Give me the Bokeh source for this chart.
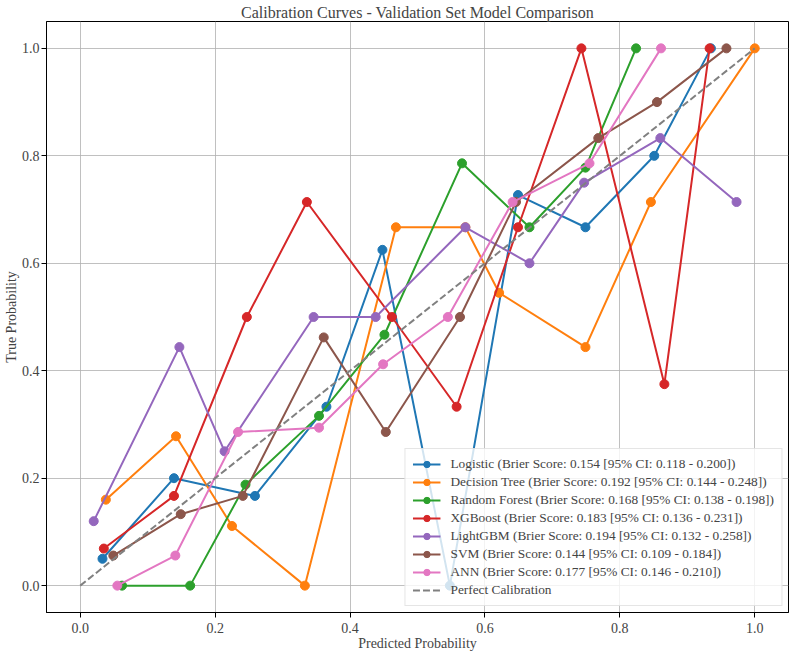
from bokeh.plotting import figure
from bokeh.models import Range1d, FixedTicker, Legend, CustomJSTickFormatter
from bokeh.embed import file_html
from bokeh.resources import INLINE

# ---- data ----
model_names = ["Logistic", "Decision Tree", "Random Forest", "XGBoost", "LightGBM", "SVM", "ANN"]
brier = [0.154, 0.192, 0.168, 0.183, 0.194, 0.144, 0.177]
ci_low = [0.118, 0.144, 0.138, 0.136, 0.132, 0.109, 0.146]
ci_high = [0.200, 0.248, 0.198, 0.231, 0.258, 0.184, 0.210]

logistic_x = [0.033, 0.139, 0.259, 0.365, 0.448, 0.548, 0.649, 0.749, 0.851, 0.935]
logistic_y = [0.050, 0.200, 0.167, 0.333, 0.625, 0.000, 0.727, 0.667, 0.800, 1.000]

tree_x = [0.038, 0.142, 0.225, 0.333, 0.468, 0.571, 0.621, 0.749, 0.846, 1.000]
tree_y = [0.160, 0.278, 0.111, 0.000, 0.667, 0.667, 0.545, 0.444, 0.714, 1.000]

forest_x = [0.062, 0.163, 0.245, 0.354, 0.451, 0.566, 0.666, 0.749, 0.824]
forest_y = [0.000, 0.000, 0.188, 0.316, 0.467, 0.786, 0.667, 0.778, 1.000]

xgb_x = [0.035, 0.139, 0.247, 0.336, 0.462, 0.558, 0.649, 0.743, 0.866, 0.933]
xgb_y = [0.069, 0.167, 0.500, 0.714, 0.500, 0.333, 0.667, 1.000, 0.375, 1.000]

lgbm_x = [0.020, 0.147, 0.214, 0.346, 0.438, 0.571, 0.666, 0.747, 0.860, 0.973]
lgbm_y = [0.120, 0.444, 0.250, 0.500, 0.500, 0.667, 0.600, 0.750, 0.833, 0.714]

svm_x = [0.049, 0.149, 0.241, 0.361, 0.453, 0.563, 0.646, 0.768, 0.855, 0.958]
svm_y = [0.056, 0.133, 0.167, 0.462, 0.286, 0.500, 0.714, 0.833, 0.900, 1.000]

ann_x = [0.055, 0.141, 0.234, 0.354, 0.449, 0.545, 0.641, 0.755, 0.861]
ann_y = [0.000, 0.056, 0.286, 0.294, 0.412, 0.500, 0.714, 0.786, 1.000]

perfect = [0.0, 1.0]
ticks = [0.0, 0.2, 0.4, 0.6, 0.8, 1.0]

series_x = [logistic_x, tree_x, forest_x, xgb_x, lgbm_x, svm_x, ann_x]
series_y = [logistic_y, tree_y, forest_y, xgb_y, lgbm_y, svm_y, ann_y]
colors = ["#1f77b4", "#ff7f0e", "#2ca02c", "#d62728", "#9467bd", "#8c564b", "#e377c2"]

FONT = "Liberation Serif"

p = figure(width=792, height=654, output_backend="svg", toolbar_location=None,
           x_range=Range1d(-0.05, 1.05), y_range=Range1d(-0.05, 1.05),
           title="Calibration Curves - Validation Set Model Comparison",
           x_axis_label="Predicted Probability", y_axis_label="True Probability",
           min_border_left=44, min_border_right=4, min_border_top=21, min_border_bottom=42)

p.title.align = "center"
p.title.text_font = FONT
p.title.text_font_size = "16px"
p.title.text_font_style = "normal"
p.title.offset = 0
p.title.standoff = 2

p.outline_line_color = "black"
p.outline_line_width = 1
p.outline_line_alpha = 1

p.xaxis.formatter = CustomJSTickFormatter(code="return tick.toFixed(1);")
p.yaxis.formatter = CustomJSTickFormatter(code="return tick.toFixed(1);")

for ax in p.xaxis + p.yaxis:
    ax.ticker = FixedTicker(ticks=ticks)
    ax.major_label_text_font = FONT
    ax.major_label_text_font_size = "14px"
    ax.axis_label_text_font = FONT
    ax.axis_label_text_font_size = "14px"
    ax.axis_label_text_font_style = "normal"
    ax.major_tick_in = 0
    ax.major_tick_out = 5
    ax.minor_tick_line_color = None
    ax.axis_line_color = "black"
    ax.major_tick_line_color = "black"
    ax.axis_label_standoff = 0
p.xaxis.major_label_standoff = 5
p.yaxis.major_label_standoff = 2

p.grid.grid_line_color = "#b0b0b0"
p.grid.grid_line_alpha = 0.8
p.grid.grid_line_width = 1

items = []
for name, b, lo, hi, xs, ys, c in zip(model_names, brier, ci_low, ci_high, series_x, series_y, colors):
    label = f"{name} (Brier Score: {b:.3f} [95% CI: {lo:.3f} - {hi:.3f}])"
    r1 = p.line(xs, ys, line_color=c, line_width=2)
    r2 = p.scatter(xs, ys, size=9, fill_color=c, line_color=c)
    items.append((label, [r1, r2]))

rp = p.line(perfect, perfect, line_color="gray", line_width=2, line_dash="7 3")
items.append(("Perfect Calibration", [rp]))

legend = Legend(items=items, location="bottom_right")
legend.label_text_font = FONT
legend.label_text_font_size = "10pt"
legend.glyph_width = 28
legend.glyph_height = 16
legend.label_height = 16
legend.spacing = 2
legend.padding = 7
legend.margin = 6
legend.label_standoff = 10
legend.border_line_color = "#cccccc"
legend.background_fill_alpha = 0.8
p.add_layout(legend)

open("out.html", "w").write(file_html(p, INLINE))
